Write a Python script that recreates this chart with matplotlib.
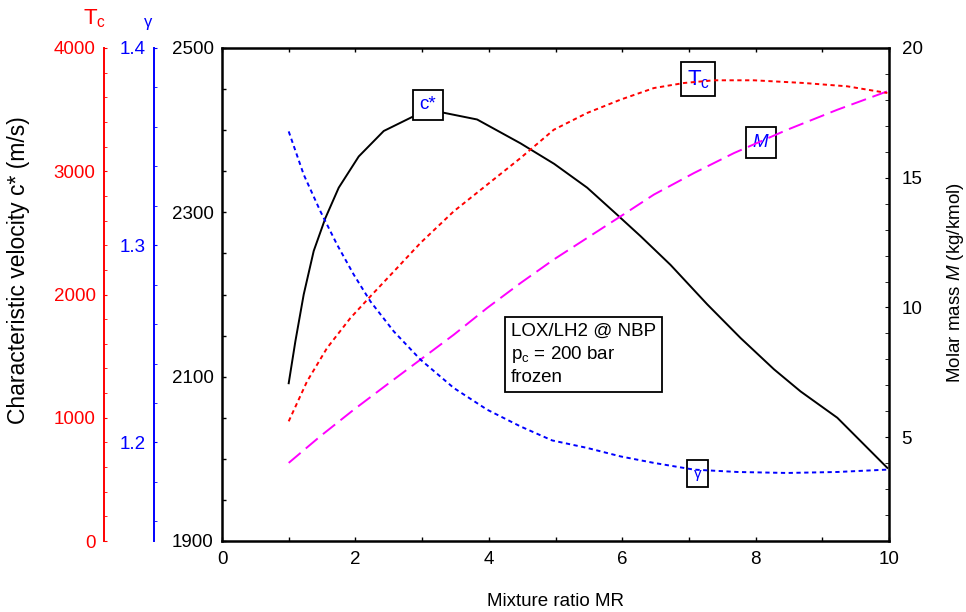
import matplotlib
matplotlib.use("Agg")
import matplotlib.pyplot as plt
from matplotlib.ticker import MultipleLocator, FixedLocator, FormatStrFormatter

plt.rcParams['font.family'] = ['Liberation Sans', 'DejaVu Sans']
plt.rcParams['mathtext.fontset'] = 'custom'
plt.rcParams['mathtext.rm'] = 'Liberation Sans'
plt.rcParams['mathtext.it'] = 'Liberation Sans:italic'
FS = 13.5
plt.rcParams['font.size'] = FS

# ---- data ----
mr_c = [1.0, 1.1, 1.225, 1.375, 1.55, 1.75, 2.05, 2.425, 2.875, 3.275, 3.825, 4.475,
        4.98, 5.475, 5.925, 6.275, 6.725, 7.275, 7.775, 8.275, 8.675, 9.225, 9.975]
cstar = [2092, 2143, 2200, 2253, 2293, 2330, 2368, 2399, 2417, 2422, 2413, 2384,
         2359, 2330, 2297, 2271, 2236, 2188, 2147, 2109, 2082, 2050, 1989]

mr_t = [1.0, 1.275, 1.575, 1.925, 2.225, 2.625, 2.975, 3.475, 3.975, 4.475, 4.975,
        5.475, 5.975, 6.475, 6.925, 7.375, 7.975, 8.725, 9.375, 9.975]
tc = [971, 1295, 1566, 1809, 1985, 2215, 2418, 2675, 2891, 3107, 3337,
      3473, 3581, 3675, 3716, 3738, 3738, 3716, 3689, 3635]

mr_m = [1.0, 1.475, 1.975, 2.475, 2.975, 3.475, 3.975, 4.475, 4.975,
        5.475, 5.975, 6.475, 7.075, 7.675, 8.475, 9.225, 9.975]
molmass = [4.01, 5.04, 6.06, 7.03, 7.99, 8.95, 9.98, 10.94, 11.85,
           12.68, 13.51, 14.35, 15.18, 15.95, 16.85, 17.62, 18.33]

mr_g = [1.0, 1.225, 1.475, 1.725, 1.975, 2.225, 2.575, 2.975, 3.475, 3.975, 4.475,
        4.95, 5.475, 5.975, 6.475, 7.075, 7.725, 8.475, 9.225, 9.975]
gamma = [1.3577, 1.3358, 1.3172, 1.3003, 1.2851, 1.2715, 1.2563, 1.2420, 1.2276,
         1.2166, 1.2081, 1.2010, 1.1972, 1.1929, 1.1896, 1.1862, 1.1850, 1.1845,
         1.1850, 1.1862]

W, H = 966, 612
fig = plt.figure(figsize=(W / 100, H / 100), dpi=100)
x0, x1, yt, yb = 222, 889, 48, 541
ax = fig.add_axes([x0 / W, (H - yb) / H, (x1 - x0) / W, (yb - yt) / H])

# main axis: c*
ax.plot(mr_c, cstar, color='black', lw=1.4, zorder=5)
ax.set_xlim(0, 10)
ax.set_ylim(1900, 2500)
ax.xaxis.set_major_locator(MultipleLocator(2))
ax.xaxis.set_minor_locator(MultipleLocator(1))
ax.yaxis.set_major_locator(FixedLocator([1900, 2100, 2300, 2500]))
ax.yaxis.set_minor_locator(MultipleLocator(50))
ax.tick_params(which='both', direction='in', top=True, length=3, width=1, labelsize=FS)
ax.tick_params(axis='x', pad=7)
ax.tick_params(axis='y', which='both', right=False, pad=6)
for s in ax.spines.values():
    s.set_linewidth(1.8)
ax.set_xlabel('Mixture ratio MR', fontsize=FS, labelpad=18)

# right axis: molar mass
axm = ax.twinx()
axm.plot(mr_m, molmass, color='#ff00ff', lw=1.4, dashes=(8, 3.5))
axm.set_ylim(1, 20)
axm.yaxis.set_major_locator(FixedLocator([5, 10, 15, 20]))
axm.yaxis.set_minor_locator(MultipleLocator(1))
axm.tick_params(which='both', direction='in', length=3, labelsize=FS, pad=9)
for s in axm.spines.values():
    s.set_visible(False)

# Tc axis
axt = ax.twinx()
axt.plot(mr_t, tc, color='red', lw=1.4, dashes=(2.2, 1.8))
axt.set_ylim(0, 4000)
for k, s in axt.spines.items():
    s.set_visible(k == 'left')
axt.spines['left'].set_position(('outward', (x0 - 104) * 0.72))
axt.spines['left'].set_color('red')
axt.spines['left'].set_linewidth(1.4)
axt.yaxis.set_ticks_position('left')
axt.yaxis.set_major_locator(MultipleLocator(1000))
axt.yaxis.set_minor_locator(MultipleLocator(200))
axt.tick_params(which='both', direction='in', length=2.5, colors='red', labelcolor='red',
                labelsize=FS, pad=6)

# gamma axis
axg = ax.twinx()
axg.plot(mr_g, gamma, color='blue', lw=1.4, dashes=(2.2, 1.8))
axg.set_ylim(1.15, 1.4)
for k, s in axg.spines.items():
    s.set_visible(k == 'left')
axg.spines['left'].set_position(('outward', (x0 - 154) * 0.72))
axg.spines['left'].set_color('blue')
axg.spines['left'].set_linewidth(1.4)
axg.yaxis.set_ticks_position('left')
axg.yaxis.set_major_locator(FixedLocator([1.2, 1.3, 1.4]))
axg.yaxis.set_minor_locator(MultipleLocator(0.02))
axg.tick_params(which='both', direction='in', length=2.5, colors='blue', labelcolor='blue',
                labelsize=FS, pad=6)
axg.yaxis.set_major_formatter(FormatStrFormatter('%.1f'))

# axis titles
fig.text(19 / W, 1 - 270 / H, 'Characteristic velocity c* (m/s)', rotation=90,
         ha='center', va='center', fontsize=16.5)
fig.text(955 / W, 1 - 283 / H, 'Molar mass $\\mathit{M}$ (kg/kmol)', rotation=90,
         ha='center', va='center', fontsize=FS)
fig.text(95 / W, 1 - 19 / H, 'T$_\\mathrm{c}$', color='red', ha='center', va='center', fontsize=16)
fig.text(148 / W, 1 - 22 / H, 'γ', color='blue', ha='center', va='center', fontsize=12)

# curve labels
box = dict(boxstyle='square,pad=0.3', fc='white', ec='black', lw=1.3)
ax.text(3.09, 2431, 'c*', color='blue', ha='center', va='center', fontsize=FS,
        bbox=dict(boxstyle='square,pad=0.35', fc='white', ec='black', lw=1.3), zorder=10)
ax.text(7.14, 2462, 'T$_\\mathrm{c}$', color='blue', ha='center', va='center', fontsize=16,
        bbox=dict(boxstyle='square,pad=0.25', fc='white', ec='black', lw=1.3), zorder=10)
ax.text(8.08, 2385, '$\\mathit{M}$', color='blue', ha='center', va='center', fontsize=FS,
        bbox=dict(boxstyle='square,pad=0.35', fc='white', ec='black', lw=1.3), zorder=10)
ax.text(7.13, 1982, 'γ', color='blue', ha='center', va='center', fontsize=11,
        bbox=dict(boxstyle='square,pad=0.45', fc='white', ec='black', lw=1.3), zorder=10)
ax.text(4.33, 2127, 'LOX/LH2 @ NBP\np$_\\mathrm{c}$ = 200 bar\nfrozen', color='black',
        ha='left', va='center', fontsize=FS, linespacing=1.28,
        bbox=dict(boxstyle='square,pad=0.3', fc='white', ec='black', lw=1.3), zorder=10)

fig.savefig('out.png', dpi=100)
